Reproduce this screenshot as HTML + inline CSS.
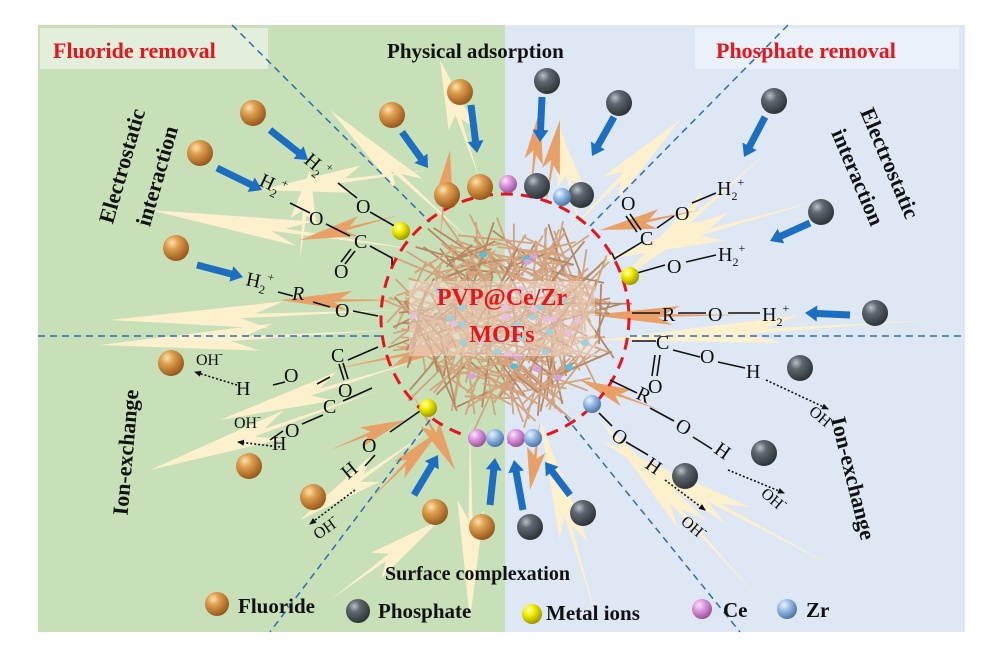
<!DOCTYPE html>
<html><head><meta charset="utf-8"><style>
html,body{margin:0;padding:0;background:#fff;}
svg{display:block;}
text{font-family:"Liberation Serif",serif;}
.b{font-weight:bold;}
.ch{font-size:20px;fill:#111;}
</style></head><body>
<svg id="s" width="996" height="650" viewBox="0 0 996 650" xmlns="http://www.w3.org/2000/svg">
<defs>
<radialGradient id="gF" cx="0.35" cy="0.3" r="0.7"><stop offset="0" stop-color="#fbe3b0"/><stop offset="0.35" stop-color="#e0a050"/><stop offset="1" stop-color="#9a5a1c"/></radialGradient>
<radialGradient id="gP" cx="0.35" cy="0.3" r="0.7"><stop offset="0" stop-color="#b8c0c8"/><stop offset="0.35" stop-color="#5f6870"/><stop offset="1" stop-color="#2f353a"/></radialGradient>
<radialGradient id="gY" cx="0.35" cy="0.3" r="0.7"><stop offset="0" stop-color="#ffffc0"/><stop offset="0.4" stop-color="#f4ee00"/><stop offset="1" stop-color="#a09a00"/></radialGradient>
<radialGradient id="gC" cx="0.35" cy="0.3" r="0.7"><stop offset="0" stop-color="#fde6fb"/><stop offset="0.4" stop-color="#e09be0"/><stop offset="1" stop-color="#9a559c"/></radialGradient>
<radialGradient id="gZ" cx="0.35" cy="0.3" r="0.7"><stop offset="0" stop-color="#eef6ff"/><stop offset="0.4" stop-color="#9cc0ea"/><stop offset="1" stop-color="#4f78a8"/></radialGradient>
<marker id="ah" markerWidth="8" markerHeight="8" refX="6" refY="4" orient="auto" markerUnits="userSpaceOnUse"><path d="M0,1 L7,4 L0,7 z" fill="#111"/></marker>
</defs>
<rect x="0" y="0" width="996" height="650" fill="#fff"/>
<rect x="38" y="25" width="467" height="607" fill="#c7e0b7"/>
<rect x="505" y="25" width="460" height="607" fill="#dde8f4"/>
<rect x="40" y="28" width="228" height="41" fill="#e3efdb"/>
<rect x="695" y="28" width="264" height="41" fill="#ebf1f9"/>
<g id="bolts"></g>
<g id="fib"></g>
<rect x="409" y="281" width="186" height="75" fill="#f6e6dc" opacity="0.45"/>
<g stroke="#2f6cb5" stroke-width="1.5" stroke-dasharray="7,5" fill="none">
<line x1="232" y1="25" x2="430" y2="222"/>
<line x1="38" y1="336" x2="382" y2="336"/>
<line x1="630" y1="336" x2="965" y2="336"/>
<line x1="788" y1="25" x2="590" y2="226"/>
<line x1="430" y1="420" x2="270" y2="632"/>
<line x1="565" y1="416" x2="740" y2="632"/>
</g>
<circle cx="505" cy="318" r="124" fill="none" stroke="#e8141b" stroke-width="3" stroke-dasharray="12,8"/>
<text x="502" y="305" text-anchor="middle" class="b" font-size="24" fill="#e8141b">PVP@Ce/Zr</text>
<text x="502" y="342" text-anchor="middle" class="b" font-size="24" fill="#e8141b">MOFs</text>
<text x="53" y="58" class="b" font-size="22" fill="#e8141b">Fluoride removal</text>
<text x="716" y="58" class="b" font-size="22" fill="#e8141b">Phosphate removal</text>
<text x="387" y="58" class="b" font-size="21" fill="#111">Physical adsorption</text>
<text x="385" y="580" class="b" font-size="20" fill="#111">Surface complexation</text>
<text transform="translate(129,168) rotate(-74)" text-anchor="middle" class="b" font-size="22" fill="#111">Electrostatic</text>
<text transform="translate(164,178) rotate(-74)" text-anchor="middle" class="b" font-size="22" fill="#111">interaction</text>
<text transform="translate(883,166) rotate(67)" text-anchor="middle" class="b" font-size="22" fill="#111">Electrostatic</text>
<text transform="translate(851,180) rotate(67)" text-anchor="middle" class="b" font-size="22" fill="#111">interaction</text>
<text transform="translate(133,453) rotate(-85)" text-anchor="middle" class="b" font-size="22" fill="#111">Ion-exchange</text>
<text transform="translate(846,480) rotate(76)" text-anchor="middle" class="b" font-size="22" fill="#111">Ion-exchange</text>
<g stroke="#111" stroke-width="1.6" fill="none">
<line x1="338" y1="183" x2="357" y2="198"/><line x1="370" y1="212" x2="398" y2="228"/>
<line x1="290" y1="203" x2="310" y2="213"/><line x1="326" y1="224" x2="350" y2="236"/><line x1="370" y1="246" x2="392" y2="258"/><line x1="392" y1="258" x2="392" y2="265"/>
<line x1="355" y1="251" x2="345" y2="264"/><line x1="351" y1="249" x2="341" y2="262"/>
<line x1="278" y1="292" x2="293" y2="296"/><line x1="313" y1="302" x2="330" y2="307"/><line x1="353" y1="311" x2="378" y2="316"/>
<line x1="317" y1="384" x2="330" y2="377"/><line x1="273" y1="385" x2="285" y2="382"/><line x1="348" y1="360" x2="378" y2="347"/>
<line x1="339" y1="364" x2="344" y2="380"/><line x1="343" y1="363" x2="348" y2="379"/>
<line x1="270" y1="440" x2="283" y2="431"/><line x1="302" y1="424" x2="323" y2="415"/><line x1="343" y1="401" x2="372" y2="388"/>
<line x1="365" y1="466" x2="375" y2="455"/><line x1="390" y1="432" x2="420" y2="411"/>
<line x1="630" y1="214" x2="641" y2="230"/><line x1="626" y1="216" x2="637" y2="232"/>
<line x1="657" y1="228" x2="674" y2="216"/><line x1="692" y1="203" x2="716" y2="193"/><line x1="614" y1="259" x2="642" y2="242"/><line x1="612" y1="253" x2="615" y2="260"/>
<line x1="637" y1="273" x2="665" y2="265"/><line x1="686" y1="262" x2="716" y2="255"/>
<line x1="632" y1="313" x2="660" y2="313"/><line x1="678" y1="313" x2="706" y2="313"/><line x1="728" y1="313" x2="760" y2="313"/>
<line x1="632" y1="341" x2="656" y2="341"/><line x1="673" y1="350" x2="700" y2="357"/><line x1="718" y1="362" x2="745" y2="368"/>
<line x1="655" y1="355" x2="652" y2="376"/><line x1="660" y1="355" x2="657" y2="376"/>
<line x1="610" y1="380" x2="637" y2="393"/><line x1="650" y1="408" x2="674" y2="421"/><line x1="693" y1="437" x2="712" y2="449"/>
<line x1="599" y1="413" x2="612" y2="426"/><line x1="626" y1="442" x2="648" y2="455"/>
</g>
<g stroke="#111" stroke-width="1.6" stroke-dasharray="2,2" fill="none" marker-end="url(#ah)">
<line x1="237" y1="385" x2="195" y2="372"/><line x1="280" y1="447" x2="238" y2="442"/><line x1="355" y1="490" x2="310" y2="524"/>
<line x1="766" y1="380" x2="828" y2="409"/><line x1="728" y1="470" x2="784" y2="493"/><line x1="665" y1="480" x2="705" y2="510"/>
</g>
<g class="ch">
<text transform="translate(303,162) rotate(40)">H<tspan font-size="12" dy="5">2</tspan><tspan font-size="12" dy="-14">+</tspan></text>
<text x="356" y="213">O</text>
<text transform="translate(258,185) rotate(25)">H<tspan font-size="12" dy="5">2</tspan><tspan font-size="12" dy="-14">+</tspan></text>
<text x="309" y="225">O</text><text x="354" y="248">C</text><text x="334" y="278">O</text>
<text transform="translate(245,285) rotate(12)">H<tspan font-size="12" dy="5">2</tspan><tspan font-size="12" dy="-14">+</tspan></text>
<text x="292" y="300" font-style="italic">R</text><text x="335" y="317">O</text>
<text x="196" y="365" font-size="16">OH<tspan font-size="11" dy="-8">-</tspan></text>
<text x="236" y="395">H</text><text x="284" y="382">O</text><text x="331" y="362">C</text><text x="338" y="397">O</text>
<text x="234" y="428" font-size="16">OH<tspan font-size="11" dy="-8">-</tspan></text>
<text x="272" y="450">H</text><text x="285" y="437">O</text><text x="323" y="413">C</text>
<text transform="translate(348,480) rotate(-40)">H</text><text x="362" y="452">O</text>
<text transform="translate(318,540) rotate(-35)" font-size="16">OH<tspan font-size="11" dy="-8">-</tspan></text>
<text x="621" y="210">O</text><text x="640" y="245">C</text><text x="675" y="220">O</text>
<text x="717" y="195">H<tspan font-size="12" dy="5">2</tspan><tspan font-size="12" dy="-14">+</tspan></text>
<text x="667" y="273">O</text>
<text x="718" y="261">H<tspan font-size="12" dy="5">2</tspan><tspan font-size="12" dy="-14">+</tspan></text>
<text x="662" y="321">R</text><text x="708" y="321">O</text>
<text x="762" y="321">H<tspan font-size="12" dy="5">2</tspan><tspan font-size="12" dy="-14">+</tspan></text>
<text x="656" y="349">C</text><text x="700" y="363">O</text><text x="746" y="378">H</text><text x="648" y="393">O</text>
<text transform="translate(635,398) rotate(25)">R</text><text transform="translate(674,429) rotate(30)">O</text><text transform="translate(713,452) rotate(35)">H</text>
<text transform="translate(610,438) rotate(35)">O</text><text transform="translate(644,467) rotate(35)">H</text>
<text transform="translate(808,413) rotate(40)" font-size="16">OH<tspan font-size="11" dy="-8">-</tspan></text>
<text transform="translate(760,495) rotate(40)" font-size="16">OH<tspan font-size="11" dy="-8">-</tspan></text>
<text transform="translate(680,523) rotate(40)" font-size="16">OH<tspan font-size="11" dy="-8">-</tspan></text>
</g>
<g id="arr" fill="#1b6ec2"></g>
<g id="sph"></g>
<circle cx="217" cy="604" r="12" fill="url(#gF)"/>
<text x="238" y="613" class="b" font-size="21" fill="#111">Fluoride</text>
<circle cx="358" cy="611" r="12" fill="url(#gP)"/>
<text x="378" y="618" class="b" font-size="21" fill="#111">Phosphate</text>
<circle cx="532" cy="614" r="10" fill="url(#gY)"/>
<text x="546" y="620" class="b" font-size="21" fill="#111">Metal ions</text>
<circle cx="702" cy="609" r="10" fill="url(#gC)"/>
<text x="723" y="617" class="b" font-size="21" fill="#111">Ce</text>
<circle cx="787" cy="609" r="10" fill="url(#gZ)"/>
<text x="806" y="617" class="b" font-size="21" fill="#111">Zr</text>
</svg>
<script>
var NS="http://www.w3.org/2000/svg";
function el(p,t,a){var e=document.createElementNS(NS,t);for(var k in a)e.setAttribute(k,a[k]);p.appendChild(e);return e;}
var B=document.getElementById("bolts");
function bolt(x1,y1,x2,y2,w,c){var dx=x2-x1,dy=y2-y1,L=Math.hypot(dx,dy),nx=-dy/L,ny=dx/L;
var p=[[x1,y1],[x1+dx*.55+nx*w,y1+dy*.55+ny*w],[x1+dx*.45+nx*w*0.2,y1+dy*.45+ny*w*0.2],[x2,y2],[x1+dx*.5-nx*w*0.1,y1+dy*.5-ny*w*0.1],[x1+dx*.6-nx*w*0.9,y1+dy*.6-ny*w*0.9]];
el(B,"polygon",{points:p.map(function(q){return q.join(",")}).join(" "),fill:c});}
var cr="#fdf0cd",or="#e9a066";
[[150,210,420,250],[100,345,390,330],[150,470,380,390],[220,420,420,360],[310,170,300,260],[110,320,400,310],[330,110,470,240],[260,190,430,170],[560,130,580,230],[620,280,770,150],[600,340,930,320],[600,260,820,200],[600,420,760,600],[600,440,840,570],[540,420,600,630],[470,620,470,420],[440,520,330,600],[300,520,430,430],[680,120,560,240],[440,60,480,180]].forEach(function(b){bolt(b[0],b[1],b[2],b[3],14,cr);});
[[450,150,440,240],[480,340,330,370],[405,420,330,450],[440,430,370,500],[455,470,410,390],[540,110,530,200],[560,120,545,210],[600,230,700,210],[590,315,740,315],[580,380,660,410],[530,490,540,420],[280,300,400,300],[300,240,400,215]].forEach(function(b){bolt(b[0],b[1],b[2],b[3],10,or);});
var F=document.getElementById("fib");var seed=7;function r(){seed=(seed*9301+49297)%233280;return seed/233280;}
for(var i=0;i<420;i++){var a=r()*Math.PI*2,d=Math.sqrt(r())*82,cx=505+Math.cos(a)*d*1.2,cy=318+Math.sin(a)*d,b=r()*Math.PI,l=25+r()*60;
el(F,"line",{x1:cx-Math.cos(b)*l/2,y1:cy-Math.sin(b)*l/2,x2:cx+Math.cos(b)*l/2,y2:cy+Math.sin(b)*l/2,stroke:(i%3?"#d3a47e":"#b78763"),"stroke-width":1.8});}
for(var i=0;i<40;i++){var a=r()*Math.PI*2,d=r()*80;el(F,"ellipse",{cx:505+Math.cos(a)*d*1.2,cy:318+Math.sin(a)*d,rx:4,ry:3,fill:(i%2?"#57bfd8":"#d7a3dd")});}
var A=document.getElementById("arr");
function arrow(x1,y1,x2,y2){var dx=x2-x1,dy=y2-y1,L=Math.hypot(dx,dy),ux=dx/L,uy=dy/L,nx=-uy,ny=ux,h=12,w=3.5,hw=8;
var bx=x2-ux*h,by=y2-uy*h;var p=[[x1+nx*w,y1+ny*w],[bx+nx*w,by+ny*w],[bx+nx*hw,by+ny*hw],[x2,y2],[bx-nx*hw,by-ny*hw],[bx-nx*w,by-ny*w],[x1-nx*w,y1-ny*w]];
el(A,"polygon",{points:p.map(function(q){return q.join(",")}).join(" ")});}
[[270,130,308,160],[217,168,262,190],[197,265,243,277],[402,132,428,168],[471,105,477,153],[542,97,540,142],[614,117,592,156],[765,117,744,157],[810,223,770,241],[850,315,805,313],[414,495,438,455],[490,505,495,458],[523,510,514,460],[570,495,545,462]].forEach(function(a){arrow(a[0],a[1],a[2],a[3]);});
var S=document.getElementById("sph");
function sp(g,r,l){l.forEach(function(c){el(S,"circle",{cx:c[0],cy:c[1],r:r,fill:"url(#"+g+")"});});}
sp("gF",13,[[253,113],[200,153],[460,92],[392,115],[176,248],[447,195],[480,187],[171,363],[249,466],[313,497],[435,512],[482,527]]);
sp("gP",13,[[547,81],[619,103],[774,101],[821,212],[875,313],[800,368],[764,453],[685,476],[583,513],[530,527],[537,186],[581,195]]);
sp("gC",9,[[508,184],[477,438],[516,438]]);
sp("gZ",9,[[562,197],[495,438],[533,438],[592,404]]);
sp("gY",9,[[401,231],[630,276],[428,408]]);
</script>
</body></html>
